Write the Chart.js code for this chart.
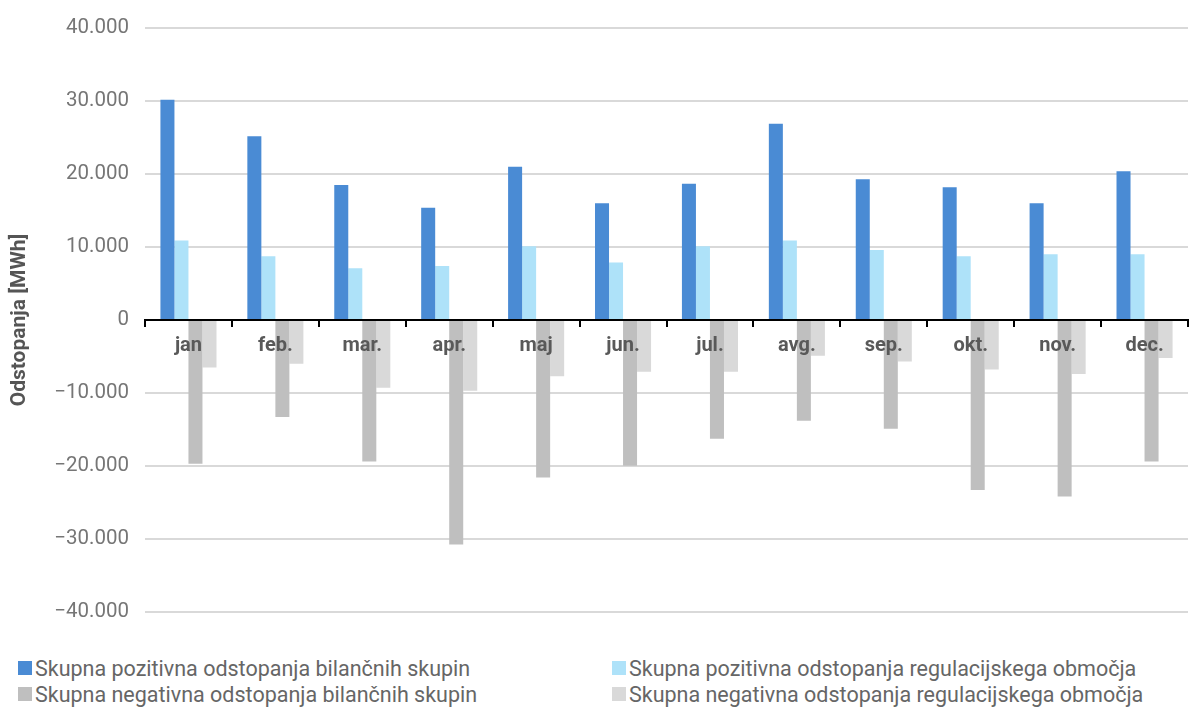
<!DOCTYPE html>
<html>
<head>
<meta charset="utf-8">
<script src="https://cdn.jsdelivr.net/npm/chart.js@4.4.1/dist/chart.umd.min.js"></script>
<style>
  html, body { margin: 0; padding: 0; background: #fff; }
  #wrap { position: relative; width: 1190px; height: 710px; }
  #box { position: absolute; left: 0; top: 0; width: 1190px; height: 640px; }
  #legend {
    position: absolute; left: 18px; top: 655px;
    display: grid; grid-template-columns: 594px auto; row-gap: 0;
    font-family: Roboto, "Noto Sans", sans-serif; font-size: 21.5px; color: #666;
  }
  #legend .item { display: flex; align-items: center; height: 26px; white-space: nowrap; }
  #legend .sw { width: 14px; height: 14px; margin-right: 3px; flex: none; }
</style>
</head>
<body>
<div id="wrap">
  <div id="box"><canvas id="chart"></canvas></div>
  <div id="legend"></div>
</div>
<script>
// months
const months = ['jan', 'feb.', 'mar.', 'apr.', 'maj', 'jun.', 'jul.', 'avg.', 'sep.', 'okt.', 'nov.', 'dec.'];

// MWh
const posGroups = [30200, 25200, 18500, 15400, 21000, 16000, 18700, 26900, 19300, 18200, 16000, 20400];
const posArea   = [10900, 8750, 7100, 7400, 10100, 7900, 10100, 10900, 9600, 8750, 9000, 9000];
const negGroups = [-19700, -13300, -19400, -30800, -21600, -20000, -16300, -13800, -14900, -23300, -24200, -19400];
const negArea   = [-6500, -6000, -9300, -9700, -7700, -7100, -7100, -4900, -5700, -6800, -7400, -5200];

const seriesNames = [
    'Skupna pozitivna odstopanja bilančnih skupin',
    'Skupna pozitivna odstopanja regulacijskega območja',
    'Skupna negativna odstopanja bilančnih skupin',
    'Skupna negativna odstopanja regulacijskega območja'
];
const colors = ['#4a8bd4', '#aee2f9', '#bfbfbf', '#d9d9d9'];

const yMin = -40000, yMax = 40000, yStep = 10000;

function fmt(v) {
    const s = Math.abs(v).toString().replace(/\B(?=(\d{3})+(?!\d))/g, '.');
    return v < 0 ? '\u2212' + s : s;
}

const values = [posGroups, posArea, negGroups, negArea];
const datasets = values.map((data, i) => ({
    label: seriesNames[i],
    data: data,
    backgroundColor: colors[i],
    borderWidth: 0,
    barPercentage: 1.0,
    categoryPercentage: 0.645
}));

const font = 'Roboto, "Noto Sans", sans-serif';

const chart = new Chart(document.getElementById('chart'), {
    type: 'bar',
    data: { labels: months, datasets: datasets },
    options: {
        responsive: true,
        maintainAspectRatio: false,
        animation: false,
        layout: { padding: { top: 18, right: 2, bottom: 18, left: 0 } },
        plugins: {
            legend: { display: false },
            tooltip: { enabled: false }
        },
        scales: {
            x: {
                position: { y: 0 },
                grid: {
                    display: true,
                    drawOnChartArea: false,
                    drawTicks: true,
                    tickLength: 6,
                    color: '#000',
                    lineWidth: 2,
                    z: 1
                },
                border: { display: true, color: '#000', width: 2, z: 1 },
                ticks: {
                    z: 1,
                    color: '#595959',
                    padding: 8,
                    font: { family: font, size: 20, weight: 'bold' }
                }
            },
            y: {
                min: yMin,
                max: yMax,
                afterFit: (scale) => { scale.width = 145; },
                grid: {
                    color: '#d9d9d9',
                    lineWidth: 2,
                    drawTicks: false
                },
                border: { display: false },
                ticks: {
                    stepSize: yStep,
                    padding: 16,
                    color: '#767676',
                    font: { family: font, size: 20.5 },
                    callback: (v) => fmt(v)
                },
                title: {
                    display: true,
                    text: 'Odstopanja [MWh]',
                    color: '#555',
                    padding: { top: 7, bottom: 0 },
                    font: { family: font, size: 21, weight: 'bold' }
                }
            }
        }
    }
});

// legend in two fixed columns like the original
const legend = document.getElementById('legend');
chart.data.datasets.forEach((ds) => {
    const item = document.createElement('div');
    item.className = 'item';
    const sw = document.createElement('span');
    sw.className = 'sw';
    sw.style.background = ds.backgroundColor;
    const txt = document.createElement('span');
    txt.textContent = ds.label;
    item.appendChild(sw);
    item.appendChild(txt);
    legend.appendChild(item);
});
</script>
</body>
</html>
